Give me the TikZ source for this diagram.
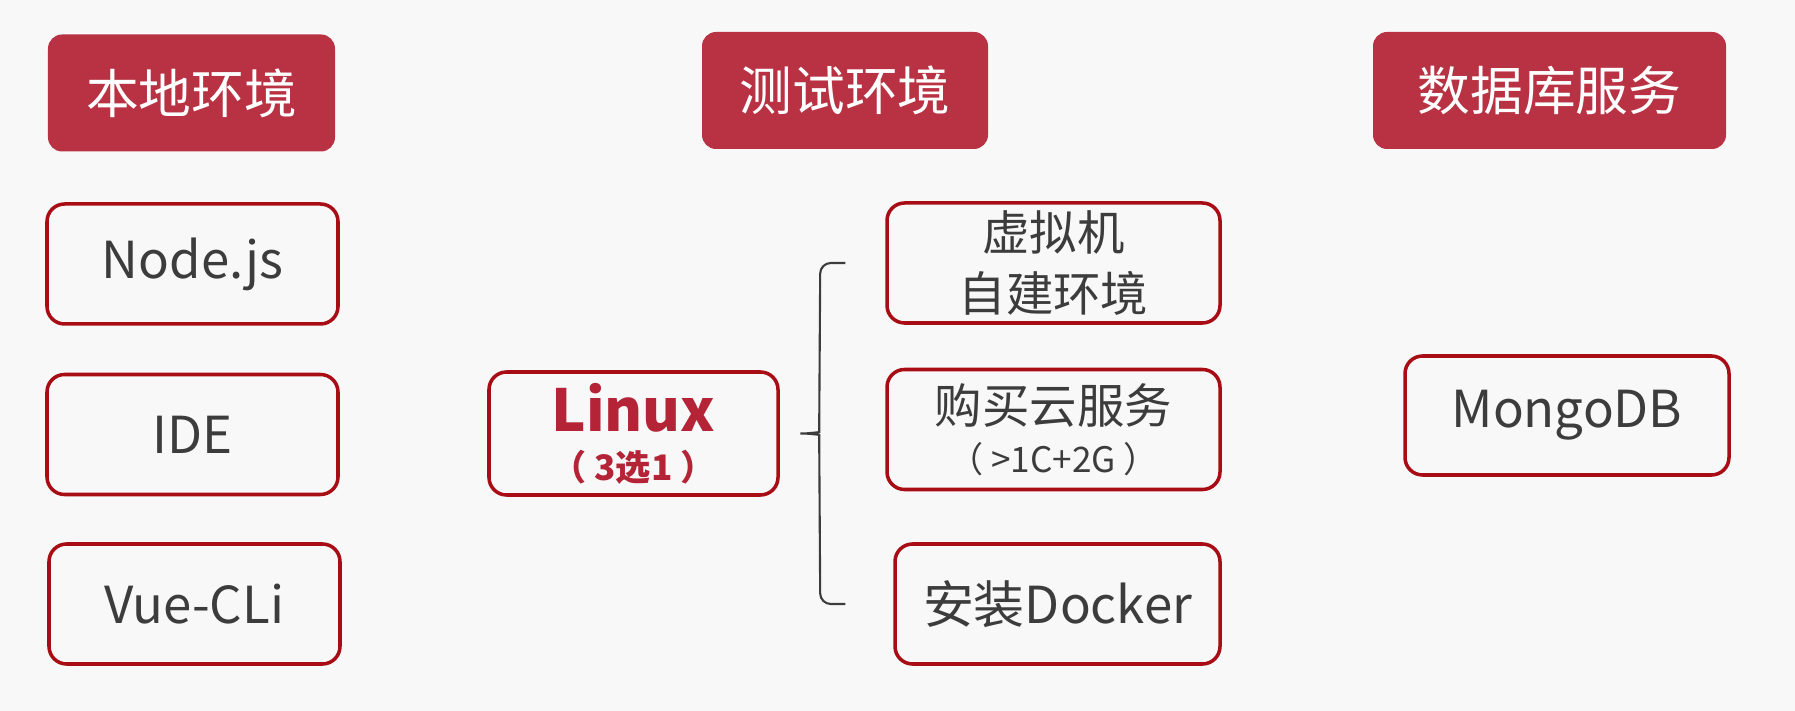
\documentclass[tikz,border=0pt]{standalone}
\usepackage{fontspec}
\setmainfont{Noto Sans CJK SC}
\definecolor{hdred}{RGB}{184,50,67}
\definecolor{boxred}{RGB}{168,12,20}
\definecolor{txtgray}{RGB}{60,60,60}
\definecolor{linuxred}{RGB}{180,36,54}
\definecolor{bggray}{RGB}{248,248,248}
\usetikzlibrary{calc}

\begin{document}
\begin{tikzpicture}[
  head/.style={fill=hdred,rounded corners=4pt,minimum height=1.17cm,inner sep=0pt,
    text=white,font=\fontsize{15}{18}\selectfont},
  item/.style={draw=boxred,line width=1pt,fill=bggray,rounded corners=5pt,minimum height=1.2cm,
    inner sep=0pt,text=txtgray,align=center,font=\fontsize{14.5}{17}\selectfont},
  curly/.style={txtgray,line width=0.6pt,rounded corners=3pt}
]
  \useasboundingbox (0,0) rectangle (17.95,-7.11);
  \fill[bggray] (0,0) rectangle (17.95,-7.11);
  % Headers
  \node[head,minimum width=2.87cm] (local) at (1.915,-0.93) {本地环境};
  \node[head,minimum width=2.86cm] (test) at (8.45,-0.905) {测试环境};
  \node[head,minimum width=3.53cm] (db) at (15.495,-0.905) {数据库服务};
  % Local tools
  \node[item,minimum width=2.91cm] (nodejs) at (1.925,-2.64) {Node.js};
  \node[item,minimum width=2.91cm] (ide) at (1.925,-4.345) {IDE};
  \node[item,minimum width=2.91cm] (vue) at (1.945,-6.04) {Vue-CLi};
  % Test environment
  \node[item,minimum width=2.89cm,minimum height=1.23cm] (linux) at (6.335,-4.335)
    {{\fontsize{16.5}{17}\selectfont\bfseries\color{linuxred}Linux}\\[-3pt]
     {\fontsize{10}{12}\selectfont\bfseries\color{linuxred}（ 3选1 ）}};
  \node[item,minimum width=3.33cm,font=\fontsize{13.5}{17.3}\selectfont] (vm) at (10.535,-2.63)
    {虚拟机\\自建环境};
  \node[item,minimum width=3.33cm,font=\fontsize{13.5}{16}\selectfont] (cloud) at (10.535,-4.295)
    {购买云服务\\[-2pt]{\fontsize{10}{12}\selectfont（ >1C+2G ）}};
  \node[item,minimum width=3.25cm] (docker) at (10.575,-6.04) {安装Docker};
  % Database
  \node[item,minimum width=3.24cm,minimum height=1.19cm] (mongo) at (15.67,-4.155) {MongoDB};
  % Brace
  \coordinate (btop) at ($(vm.west)+(-0.40,0)$);
  \coordinate (bbot) at (btop |- docker.west);
  \coordinate (btip) at ($(btop)!0.5!(bbot)+(-0.51,0)$);
  \draw[curly] (btop) -- ++(-0.25,0) -- ($(btip)+(0.25,0.12)$)
    to[out=-90,in=0] (btip) to[out=0,in=90] ($(btip)+(0.25,-0.12)$)
    -- ($(bbot)+(-0.25,0)$) -- (bbot);
\end{tikzpicture}
\end{document}
